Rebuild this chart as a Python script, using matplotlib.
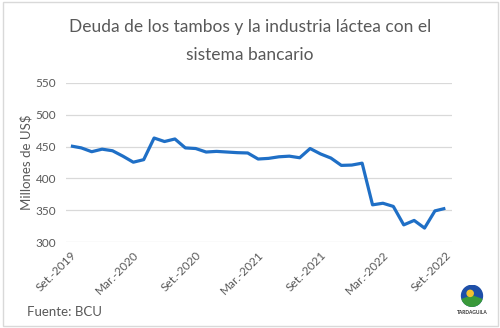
import matplotlib
matplotlib.use("Agg")
import matplotlib.pyplot as plt
from matplotlib.patches import Rectangle, Circle, Wedge

# Monthly bank debt of dairy farms and industry, Sept 2019 - Sept 2022 (millions of US$)
months = [
    "Set.-2019", "Oct.-2019", "Nov.-2019", "Dic.-2019", "Ene.-2020", "Feb.-2020",
    "Mar.-2020", "Abr.-2020", "May.-2020", "Jun.-2020", "Jul.-2020", "Ago.-2020",
    "Set.-2020", "Oct.-2020", "Nov.-2020", "Dic.-2020", "Ene.-2021", "Feb.-2021",
    "Mar.-2021", "Abr.-2021", "May.-2021", "Jun.-2021", "Jul.-2021", "Ago.-2021",
    "Set.-2021", "Oct.-2021", "Nov.-2021", "Dic.-2021", "Ene.-2022", "Feb.-2022",
    "Mar.-2022", "Abr.-2022", "May.-2022", "Jun.-2022", "Jul.-2022", "Ago.-2022",
    "Set.-2022",
]
debt = [
    451, 448, 442, 446, 443.5, 435,
    425.5, 429.5, 463.5, 458, 462, 448,
    447, 441.5, 442.5, 441.5, 440.5, 440,
    430.5, 431.5, 434, 435, 432.5, 447,
    438.5, 432, 420.5, 421, 424, 358.5,
    361, 356, 327, 334, 322, 349,
    353,
]
shown_labels = ["Set.-2019", "Mar.-2020", "Set.-2020", "Mar.-2021",
                "Set.-2021", "Mar.-2022", "Set.-2022"]
y_ticks = [300, 350, 400, 450, 500, 550]

plt.rcParams["font.family"] = ["Lato", "DejaVu Sans"]
grey = "#595959"

fig = plt.figure(figsize=(5.0, 3.28), dpi=100)
fig.patch.set_facecolor("white")
fig.add_artist(Rectangle((0.005, 0.006), 0.99, 0.988, transform=fig.transFigure,
                         fill=False, edgecolor="#D9D9D9", linewidth=1.0))

ax = fig.add_axes([0.132, 0.262, 0.772, 0.485])
x = list(range(len(months)))
ax.plot(x, debt, color="#1F6FC6", linewidth=2.3, solid_joinstyle="round",
        solid_capstyle="butt", zorder=3)

ax.set_ylim(300, 550)
ax.set_yticks(y_ticks)
ax.set_xlim(-0.47, 36.64)
tick_pos = [months.index(m) for m in shown_labels]
ax.set_xticks(tick_pos)
ax.set_xticklabels(shown_labels, rotation=45, ha="right", rotation_mode="anchor")

ax.grid(axis="y", color="#D9D9D9", linewidth=0.9)
ax.grid(axis="x", visible=False)
ax.set_axisbelow(True)
for s in ax.spines.values():
    s.set_visible(False)
ax.tick_params(axis="both", length=0, colors=grey, labelsize=8.5)
ax.tick_params(axis="y", pad=7)
ax.tick_params(axis="x", pad=5)

ax.set_ylabel("Millones de US$", color=grey, fontsize=9.5, labelpad=2)

fig.text(0.5, 0.874, "Deuda de los tambos y la industria láctea con el\nsistema bancario",
         ha="center", va="center", color=grey, fontsize=12.5, linespacing=1.9)
fig.text(0.054, 0.048, "Fuente: BCU", ha="left", va="center", color=grey, fontsize=9.5)

# small logo mark in the lower right corner
logo = fig.add_axes([0.915, 0.055, 0.058, 0.075])
logo.set_xlim(-1, 1)
logo.set_ylim(-1, 1)
logo.set_aspect("equal")
logo.axis("off")
logo.add_patch(Circle((0, 0.15), 0.85, color="#1E4FA8"))
logo.add_patch(Wedge((0, 0.15), 0.85, 200, 340, color="#3A9A3A"))
logo.add_patch(Circle((-0.15, 0.35), 0.25, color="#F2C230"))
fig.text(0.945, 0.046, "TARDAGUILA", ha="center", va="center", color="#333333",
         fontsize=3.5, fontweight="bold")

fig.savefig("out.png", dpi=100)
